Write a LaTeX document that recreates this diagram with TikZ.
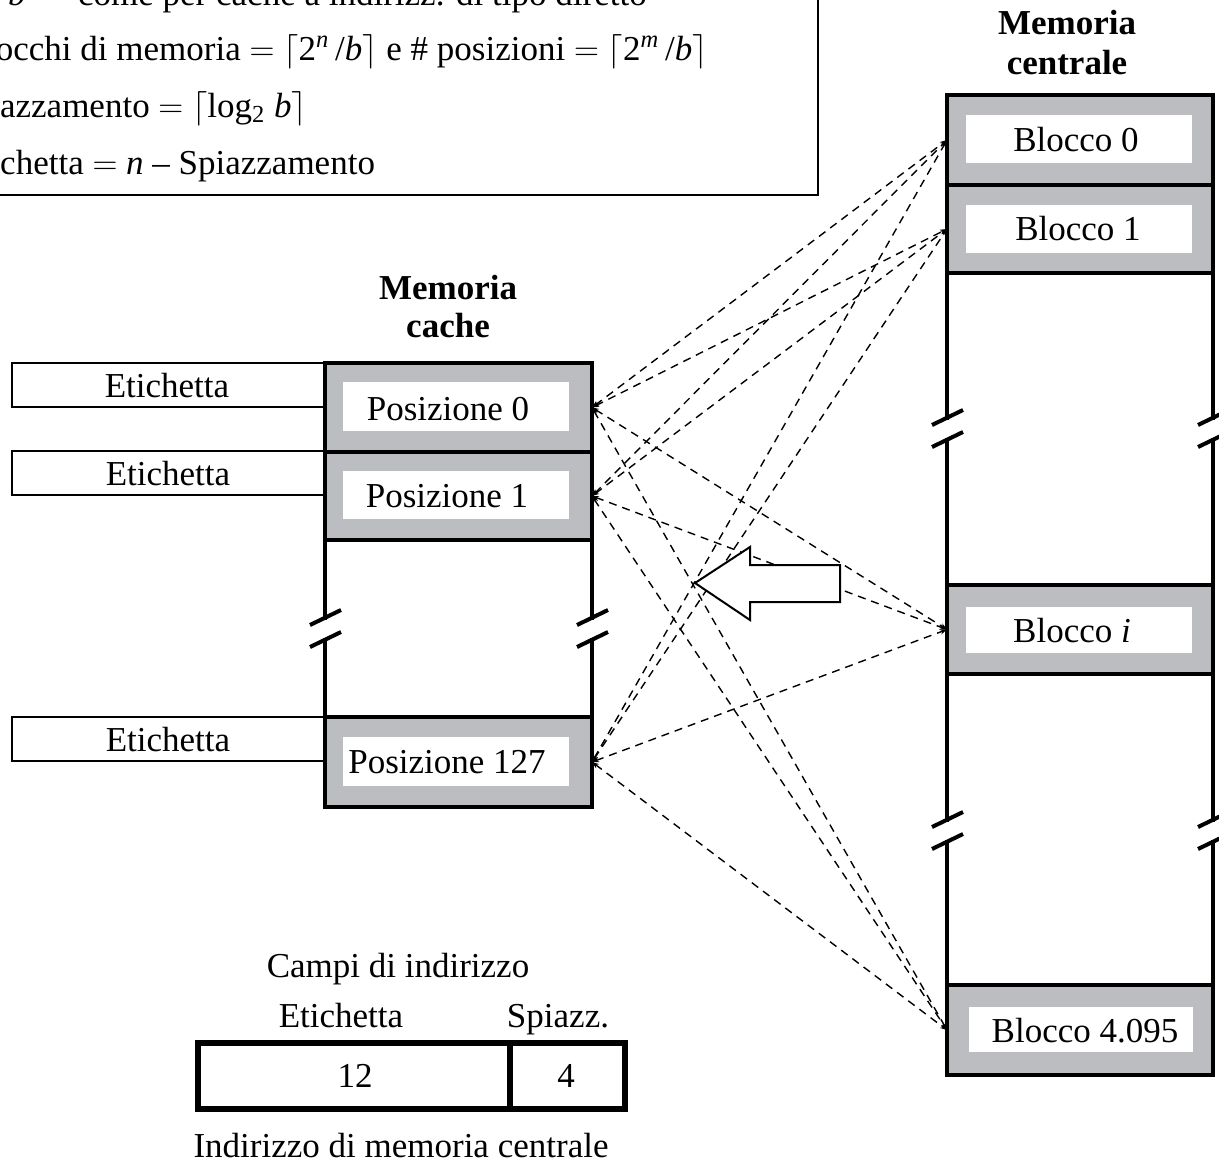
\documentclass[tikz,border=0pt]{standalone}
\usepackage{fontspec}
\setmainfont{Liberation Serif}
\usetikzlibrary{arrows.meta}
\definecolor{rowgray}{RGB}{188,189,193}
\newcommand{\va}[1]{\textit{#1}}
\begin{document}
\begin{tikzpicture}[x=0.5pt,y=-0.5pt,
  txt/.style={font=\fontsize{17.5}{21}\selectfont, inner sep=0pt, anchor=base},
  ttl/.style={font=\fontsize{17.5}{21}\selectfont\bfseries, inner sep=0pt, anchor=base},
  frame/.style={line width=2.3pt, line cap=rect},
  crow/.style={fill=rowgray, inner sep=0pt, outer sep=0pt, minimum width=133.5pt},
  mrow/.style={fill=rowgray, inner sep=0pt, outer sep=0pt, minimum width=133pt},
  tagbox/.style={draw, line width=1.4pt, inner sep=0pt, outer sep=0pt,
                 minimum width=156.5pt, minimum height=22pt},
  conn/.style={dash pattern=on 4pt off 3pt, line width=0.7pt,
               {Stealth[length=3.5pt,width=2.6pt]}-{Stealth[length=3.5pt,width=2.6pt]}},
  brk/.pic={\draw[line width=2pt] (-15,-3) -- (16,-18) (-15,19) -- (16,4);}
]
\useasboundingbox (0,0) rectangle (1219,1162);

% ---------- formula box (top left) ----------
\begin{scope}
  \clip (0,0) rectangle (1219,1162);
  \draw[line width=1pt] (-120,-120) rectangle (818,195);
  \node[txt, anchor=base west] (f1) at (-70,5)
    {\va{n}, \va{m}, \va{b} --- come per cache a indirizz. di tipo diretto};
  \node[txt, anchor=base west] (f2) at (-58,60)
    {\# blocchi di memoria $=$ $\lceil$2\textsuperscript{\va{n}}\,/\va{b}$\rceil$ e \# posizioni $=$ $\lceil$2\textsuperscript{\va{m}}\,/\va{b}$\rceil$};
  \node[txt, anchor=base west] (f3) at (-47,117)
    {Spiazzamento $=$ $\lceil$log\textsubscript{2} \va{b}$\rceil$};
  \node[txt, anchor=base west] (f4) at (-41,174)
    {Etichetta $=$ \va{n} -- Spiazzamento};
\end{scope}

% ---------- cache memory ----------
\node[ttl] (ct1) at (448,299) {Memoria};
\node[ttl] (ct2) at (448,337) {cache};

\node[crow, minimum height=44.5pt] (p0)   at (458.5,407.5) {};
\node[crow, minimum height=44pt]   (p1)   at (458.5,496)   {};
\node[crow, minimum height=45pt]   (p127) at (458.5,762)   {};

\fill[white] (343,382) rectangle (569,431);
\fill[white] (343,471) rectangle (569,519);
\fill[white] (343,737) rectangle (569,786);
\node[txt] (p0t)   at (448,420) {Posizione 0};
\node[txt] (p1t)   at (447,507) {Posizione 1};
\node[txt] (p127t) at (447,773) {Posizione 127};

\draw[frame] (325,363) -- (592,363);
\draw[frame] (325,452) -- (592,452);
\draw[frame] (325,540) -- (592,540);
\draw[frame] (325,717) -- (592,717);
\draw[frame] (325,807) -- (592,807);
\draw[frame] (325,363) -- (325,618) (325,640) -- (325,807);
\draw[frame] (592,363) -- (592,618) (592,640) -- (592,807);
\pic at (325,628) {brk};
\pic at (592,628) {brk};

% tag fields beside the cache lines
\node[tagbox, anchor=north east] (e0)   at (325,363) {};
\node[tagbox, anchor=north east] (e1)   at (325,451) {};
\node[tagbox, anchor=north east] (e127) at (325,717) {};
\node[txt] (e0t)   at (167,397) {Etichetta};
\node[txt] (e1t)   at (168,485) {Etichetta};
\node[txt] (e127t) at (168,751) {Etichetta};

% ---------- main memory ----------
\node[ttl] (mt1) at (1067,34) {Memoria};
\node[ttl] (mt2) at (1067,74) {centrale};

\node[mrow, minimum height=45pt]   (m0)    at (1080,140)   {};
\node[mrow, minimum height=44pt]   (m1)    at (1080,229)   {};
\node[mrow, minimum height=44.5pt] (mi)    at (1080,629.5) {};
\node[mrow, minimum height=45pt]   (m4095) at (1080,1030)  {};

\fill[white] (966,115) rectangle (1192,163);
\fill[white] (966,205) rectangle (1192,253);
\fill[white] (966,607) rectangle (1192,653);
\fill[white] (969,1007) rectangle (1193,1052);
\node[txt] (m0t)    at (1076,151)  {Blocco 0};
\node[txt] (m1t)    at (1078,240)  {Blocco 1};
\node[txt] (mit)    at (1072,642)  {Blocco \textit{i}};
\node[txt] (m4095t) at (1085,1042) {Blocco 4.095};

\draw[frame] (947,95) -- (1213,95);
\draw[frame] (947,185) -- (1213,185);
\draw[frame] (947,273) -- (1213,273);
\draw[frame] (947,585) -- (1213,585);
\draw[frame] (947,674) -- (1213,674);
\draw[frame] (947,985) -- (1213,985);
\draw[frame] (947,1075) -- (1213,1075);
\draw[frame] (947,95) -- (947,418) (947,440) -- (947,820) (947,842) -- (947,1075);
\draw[frame] (1213,95) -- (1213,418) (1213,440) -- (1213,820) (1213,842) -- (1213,1075);
\pic at (947,428) {brk};
\pic at (1213,428) {brk};
\pic at (947,830) {brk};
\pic at (1213,830) {brk};

% ---------- mapping connectors ----------
\foreach \a in {p0,p1,p127}
  \foreach \b in {m0,m1,mi,m4095}
    \draw[conn] (\a.east) -- (\b.west);

% block arrow
\draw[line width=1pt, fill=white, line join=miter]
  (695,583) -- (750,547) -- (750,565) -- (840,565) -- (840,602)
  -- (750,602) -- (750,620) -- cycle;

% ---------- address fields ----------
\node[txt] (cf)  at (398,977)  {Campi di indirizzo};
\node[txt] (cfe) at (341,1027) {Etichetta};
\node[txt] (cfs) at (558,1027) {Spiazz.};
\draw[line width=3.4pt] (198,1043) rectangle (625,1109);
\draw[line width=3.4pt] (510,1043) -- (510,1109);
\node[txt] (n12) at (355,1087) {12};
\node[txt] (n4)  at (566,1087) {4};
\node[txt] (ind) at (401,1157) {Indirizzo di memoria centrale};
\end{tikzpicture}
\end{document}
